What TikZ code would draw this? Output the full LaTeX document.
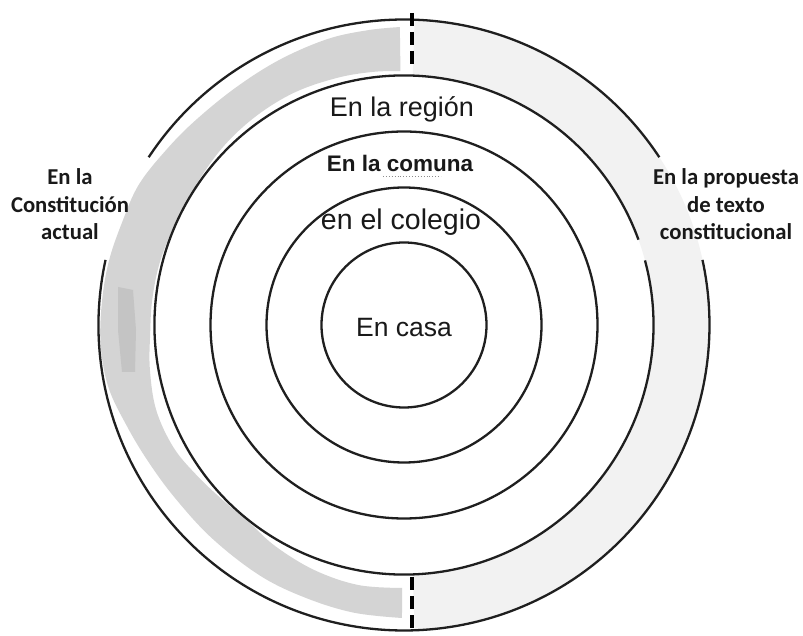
\documentclass[tikz,border=0pt]{standalone}
\usepackage{fontspec}
\setmainfont{Liberation Sans}
\newfontfamily\sidefont{Carlito}
\begin{document}
\begin{tikzpicture}[x=1pt,y=1pt,
  ring/.style={draw=black!88, line width=2.3pt},
  midlabel/.style={anchor=base, inner sep=0pt, text=black!90},
  sidelabel/.style={anchor=base, align=center, inner sep=0pt, font=\sidefont\bfseries\fontsize{22.7}{27.5}\selectfont, text=black!90},
  divider/.style={draw=black, line width=3.8pt, dash pattern=on 13pt off 6pt}]
\useasboundingbox (0,0) rectangle (803,635);
\fill[white] (0,0) rectangle (803,635);
\coordinate (C) at (404,310);
\begin{scope}[shift={(C)}]
  % light band on the right
  \fill[black!5] (88:305.5) arc[start angle=88, end angle=-88, radius=305.5]
     -- (-88:249.5) arc[start angle=-88, end angle=88, radius=249.5] -- cycle;
  % gray brush stroke on the left
  \fill[black!17] plot[smooth, tension=0.6] coordinates {(90.8:298) (97:297) (105:296) (115:293) (125:291) (135:292) (143:295) (152:300) (160:300) (168:302) (176:303) (184:304) (192:302) (200:295) (208:290) (217:287) (228:287) (240:289) (250:290) (260:292) (269.6:293)}
     -- plot[smooth, tension=0.6] coordinates {(269.6:263) (260:264) (250:261) (240:256) (232:251) (224:252) (216:256) (208:261) (199:262) (190:258) (182:254) (174:253) (165:252) (155:250) (145:251) (135:254) (125:256) (115:257) (105:256) (97:255) (90.8:254)} -- cycle;
\end{scope}
\fill[black!23] (118,348) -- (133,345) -- (136,305) -- (135,263) -- (122,263) -- (118,305) -- cycle;
\begin{scope}[shift={(C)}]
  \draw[ring] (0,0) circle[radius=82.5];
  \draw[ring] (0,0) circle[radius=137.5];
  \draw[ring] (0,0) circle[radius=193.5];
  \draw[ring] (20:249.5) arc[start angle=20, end angle=375, radius=249.5];
  \draw[ring] (33.3:305.5) arc[start angle=33.3, end angle=146.7, radius=305.5];
  \draw[ring] (167.7:305.5) arc[start angle=167.7, end angle=372.3, radius=305.5];
\end{scope}
% dashed dividers
\coordinate (dt1) at (412,622);
\coordinate (dt2) at (412,567);
\coordinate (db1) at (412,58);
\coordinate (db2) at (412,7);
\draw[divider] (dt1) -- (dt2);
\draw[divider] (db1) -- (db2);
% labels
\node[midlabel, font=\fontsize{27}{32}\selectfont] (region) at (402,518) {En la región};
\node[midlabel, font=\bfseries\fontsize{22.5}{27}\selectfont] (comuna) at (400,463) {En la comuna};
\node[midlabel, font=\fontsize{28.5}{34}\selectfont] (colegio) at (401,405) {en el colegio};
\node[midlabel, font=\fontsize{26.5}{32}\selectfont] (casa) at (404,298) {En casa};
\coordinate (u1) at (383,459);
\coordinate (u2) at (441,459);
\draw[black!45, line width=0.9pt, dotted] (u1) -- (u2);
\node[sidelabel] (left) at (70,395) {En la\\Constitución\\actual};
\node[sidelabel] (right) at (726,395) {En la propuesta\\de texto\\constitucional};
\end{tikzpicture}
\end{document}
